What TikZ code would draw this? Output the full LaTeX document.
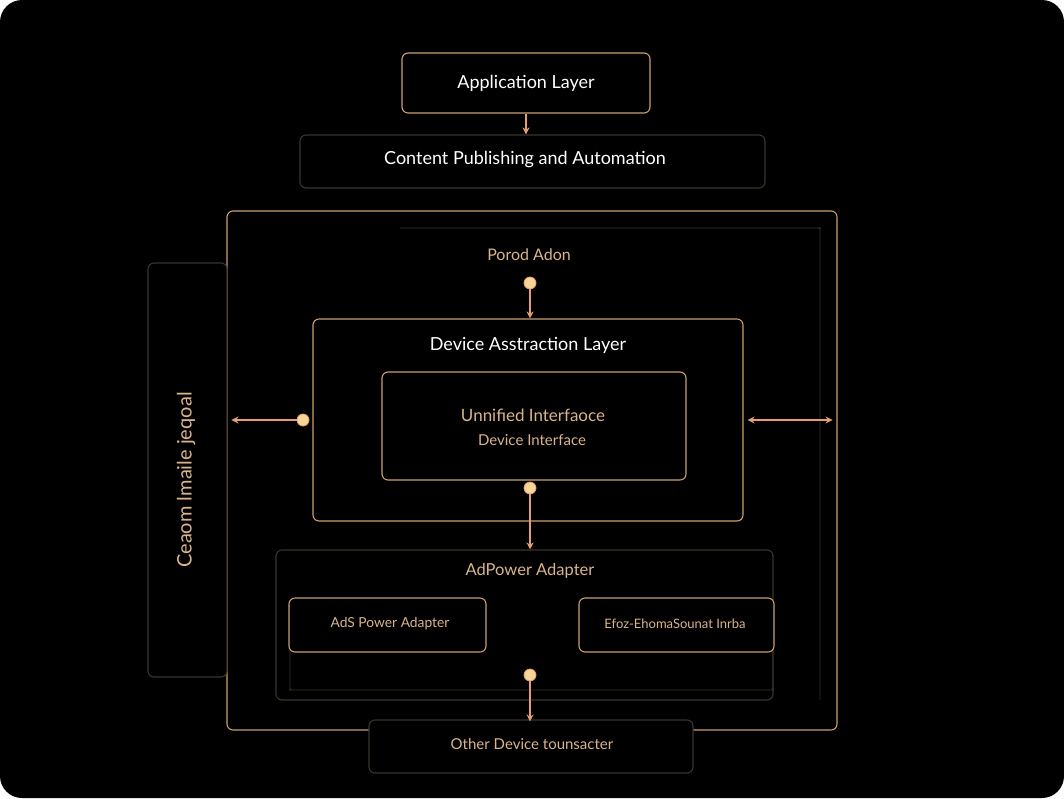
\documentclass[tikz,border=0pt]{standalone}
\usepackage{fontspec}
\setmainfont{Lato}
\usetikzlibrary{arrows.meta}
\definecolor{gold}{HTML}{C9A06E}
\definecolor{goldlt}{HTML}{E2C08A}
\definecolor{dimb}{HTML}{3A342E}
\definecolor{arrc}{HTML}{E59E72}
\definecolor{dotc}{HTML}{F6D596}
\definecolor{tan}{HTML}{D9B48C}
\tikzset{
  goldbox/.style={draw=gold, line width=1.1pt, rounded corners=6pt, fill=black, inner sep=0pt},
  dimbox/.style={draw=dimb, line width=1.1pt, rounded corners=6pt, fill=black, inner sep=0pt},
  faint/.style={draw=dimb, line width=0.9pt, rounded corners=6pt},
  dotn/.style={circle, fill=dotc, draw=arrc, line width=0.8pt, inner sep=0pt, minimum size=12pt},
  arr/.style={draw=arrc, line width=1.2pt, -{Stealth[length=7pt,width=7pt]}},
  darr/.style={draw=arrc, line width=1.2pt, {Stealth[length=7pt,width=7pt]}-{Stealth[length=7pt,width=7pt]}},
  wtxt/.style={text=white, inner sep=0pt},
  ttxt/.style={text=tan, inner sep=0pt},
}
\begin{document}
\begin{tikzpicture}[x=1pt,y=-1pt]
\useasboundingbox (0,0) rectangle (1064,798);
\fill[white] (0,0) rectangle (1064,798);
\fill[black, rounded corners=22pt] (0,0) rectangle (1064,798);

% outer frame
\node[draw=gold, line width=1.1pt, rounded corners=6pt, minimum width=610pt, minimum height=519pt, inner sep=0pt] (frame) at (532,470.5) {};
% faint inner frame
\draw[faint] (400,228) -- (814,228) to[out=0,in=90] (820,234) -- (820,700);

% left panel
\node[dimbox, minimum width=79pt, minimum height=414pt] (left) at (187.5,470) {};
\node[ttxt, rotate=90, font=\fontsize{20}{23}\selectfont] (lefttxt) at (186,480) {Ceaom lmaile jeqoal};

% top boxes
\node[goldbox, minimum width=248pt, minimum height=60pt] (app) at (526,83) {};
\node[wtxt, font=\fontsize{18}{21}\selectfont] (apptxt) at (526,83) {Application Layer};
\node[dimbox, minimum width=465pt, minimum height=53pt] (content) at (532.5,161.5) {};
\node[wtxt, font=\fontsize{18}{21}\selectfont] (contenttxt) at (525,160) {Content Publishing and Automation};
\draw[arr] (app.south) -- (app.south |- content.north);

% Porod Adon
\node[ttxt, font=\fontsize{16}{19}\selectfont] (porod) at (529,255) {Porod Adon};

% device abstraction layer
\node[goldbox, minimum width=430pt, minimum height=202pt] (dal) at (528,420) {};
\node[wtxt, font=\fontsize{18}{21}\selectfont] (daltxt) at (528,345) {Device Asstraction Layer};
\node[goldbox, minimum width=304pt, minimum height=108pt] (uni) at (534,426) {};
\node[ttxt, font=\fontsize{17}{20}\selectfont] (unitxt) at (533,415) {Unnified Interfaoce};
\node[ttxt, font=\fontsize{15}{18}\selectfont] (devtxt) at (532,440) {Device Interface};

% AdPower adapter
\node[dimbox, minimum width=497pt, minimum height=150pt] (adp) at (524.5,625) {};
\draw[faint] (290,600) -- (290,684) to[out=-90,in=180] (296,690) -- (767,690) to[out=0,in=-90] (773,684) -- (773,600);
\node[ttxt, font=\fontsize{16.5}{19}\selectfont] (adptxt) at (530,571) {AdPower Adapter};
\node[goldbox, minimum width=197pt, minimum height=54pt] (ads) at (387.5,625) {};
\node[ttxt, font=\fontsize{13.8}{16}\selectfont] (adstxt) at (390,624) {AdS Power Adapter};
\node[goldbox, minimum width=195pt, minimum height=54pt] (efo) at (676.5,625) {};
\node[ttxt, font=\fontsize{13}{16}\selectfont] (efotxt) at (675,624) {Efoz-EhomaSounat Inrba};

% other device
\node[dimbox, minimum width=324pt, minimum height=53pt] (other) at (531,746.5) {};
\node[ttxt, font=\fontsize{15}{18}\selectfont] (othertxt) at (532,744) {Other Device tounsacter};

% dots and connectors
\node[dotn] (d1) at (530,283) {};
\node[dotn] (d2) at (303,420) {};
\node[dotn] (d3) at (530,488) {};
\node[dotn] (d4) at (530,675) {};
\coordinate (lend) at ([xshift=5pt]frame.west |- d2);
\coordinate (rstart) at ([xshift=4pt]dal.east |- d2);
\coordinate (rend) at ([xshift=-5pt]frame.east |- d2);
\draw[arr] (d1) -- (d1 |- dal.north);
\draw[arr] (d2) -- (lend);
\draw[darr] (rstart) -- (rend);
\draw[arr] (d3) -- (d3 |- adp.north);
\draw[arr] (d4) -- ([yshift=-2pt]d4 |- other.north);
\end{tikzpicture}
\end{document}
